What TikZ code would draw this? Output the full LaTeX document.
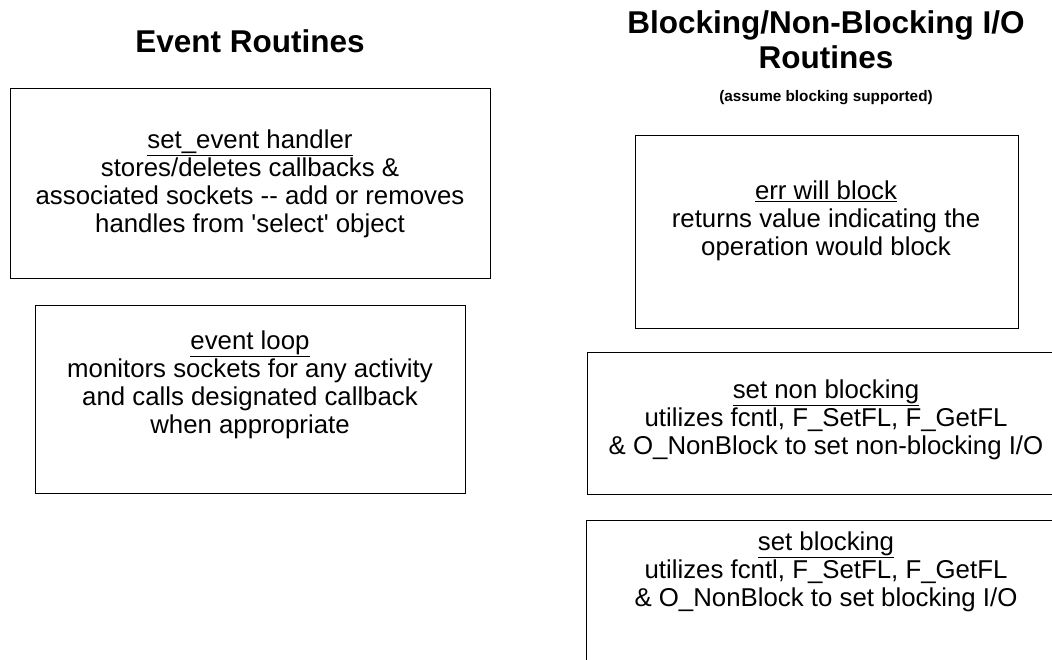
\documentclass[tikz,border=0pt]{standalone}
\usepackage{fontspec}
\setmainfont{Liberation Sans}
\begin{document}
\begin{tikzpicture}[x=1pt,y=-1pt,
  box/.style={draw, line width=1.4pt, inner sep=0pt, anchor=north west},
  body/.style={align=center, font=\fontsize{25.8}{28}\selectfont, inner sep=0pt},
  head/.style={align=center, font=\bfseries\fontsize{31.5}{34.5}\selectfont, inner sep=0pt}]
\useasboundingbox[fill=white] (0,0) rectangle (1052,660);
\clip (0,0) rectangle (1052,660);
% titles
\node[head] (t1) at (250,41) {Event Routines};
\node[head] (t2) at (826,39.5) {Blocking/Non-Blocking I/O\\Routines};
\node[font=\bfseries\fontsize{15.3}{17}\selectfont, inner sep=0pt] (t3) at (826,97.5) {(assume blocking supported)};
% boxes
\node[box, minimum width=480pt, minimum height=190pt] (b1) at (10,88) {};
\node[box, minimum width=430pt, minimum height=188pt] (b2) at (35,305) {};
\node[box, minimum width=383pt, minimum height=193pt] (b3) at (635,135) {};
\node[box, minimum width=500pt, minimum height=142pt] (b4) at (587,352) {};
\node[box, minimum width=500pt, minimum height=200pt] (b5) at (586,520) {};
% texts
\node[body] (x1) at (250,184) {\underline{set\_event handler}\\stores/deletes callbacks \&\\associated sockets {-}{-} add or removes\\handles from \textquotesingle select\textquotesingle\ object};
\node[body] (x2) at (250,385) {\underline{event loop}\\monitors sockets for any activity\\and calls designated callback\\when appropriate};
\node[body] (x3) at (826,221) {\underline{err will block}\\returns value indicating the\\operation would block};
\node[body] (x4) at (826,420) {\underline{set non blocking}\\utilizes fcntl, F\_SetFL, F\_GetFL\\\& O\_NonBlock to set non-blocking I/O};
\node[body] (x5) at (826,572) {\underline{set blocking}\\utilizes fcntl, F\_SetFL, F\_GetFL\\\& O\_NonBlock to set blocking I/O};
\end{tikzpicture}
\end{document}
